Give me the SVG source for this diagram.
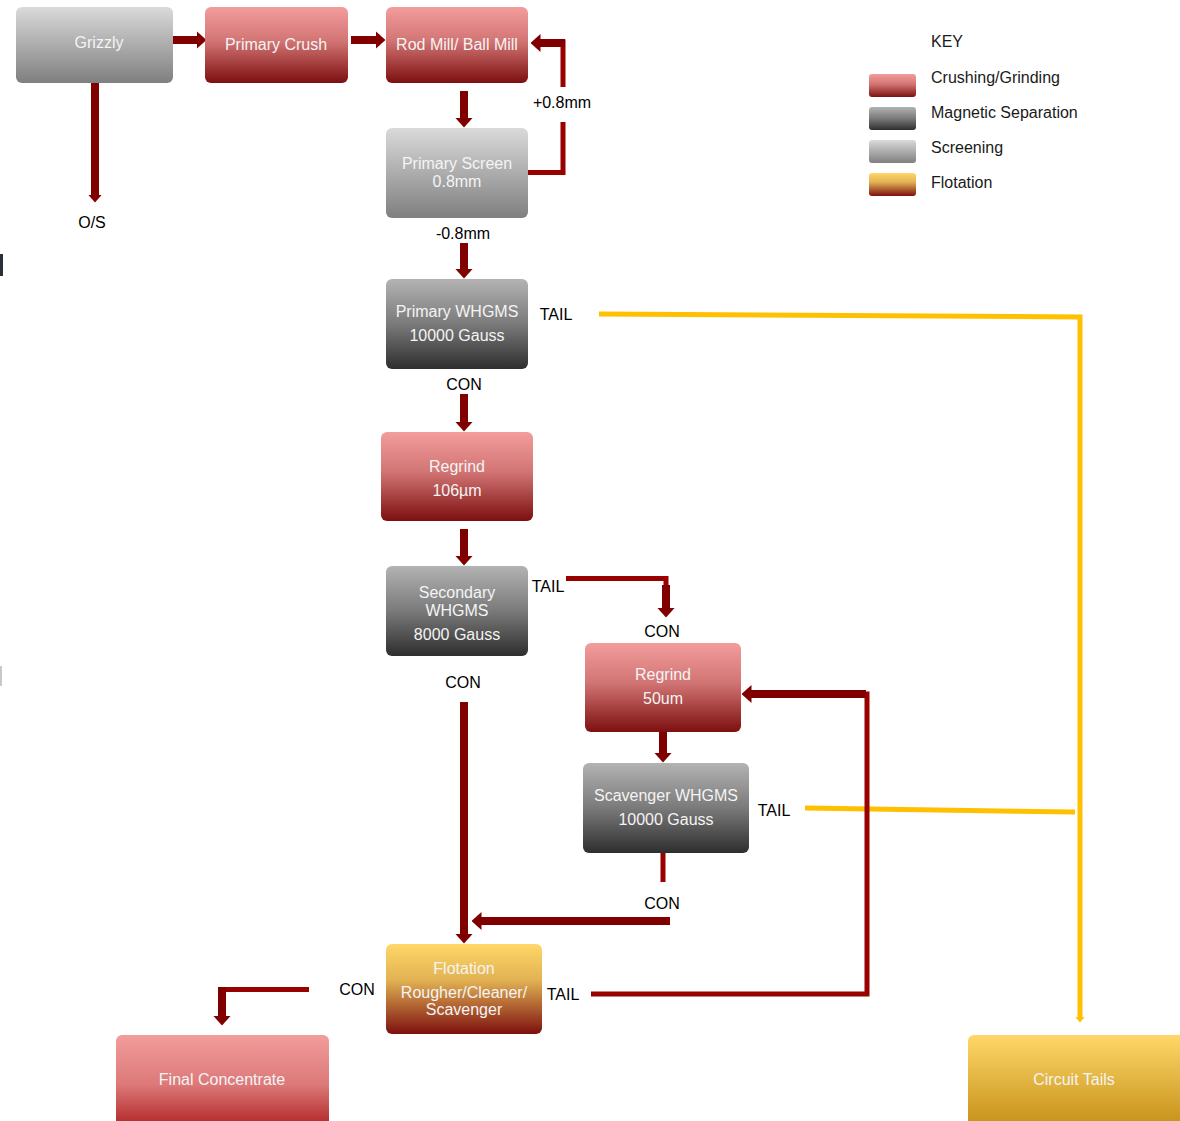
<svg xmlns="http://www.w3.org/2000/svg" width="1180" height="1121" viewBox="0 0 1180 1121">
<defs>
<linearGradient id="gRed" x1="0" y1="0" x2="0" y2="1"><stop offset="0" stop-color="#f29d9c"/><stop offset="0.45" stop-color="#d27474"/><stop offset="1" stop-color="#7d0f0f"/></linearGradient>
<linearGradient id="gRed2" x1="0" y1="0" x2="0" y2="1"><stop offset="0" stop-color="#f29d9c"/><stop offset="0.5" stop-color="#dc7878"/><stop offset="1" stop-color="#a81414"/></linearGradient>
<linearGradient id="gLight" x1="0" y1="0" x2="0" y2="1"><stop offset="0" stop-color="#dadada"/><stop offset="1" stop-color="#7f7f7f"/></linearGradient>
<linearGradient id="gDark" x1="0" y1="0" x2="0" y2="1"><stop offset="0" stop-color="#b3b3b3"/><stop offset="0.5" stop-color="#7a7a7a"/><stop offset="1" stop-color="#2e2e2e"/></linearGradient>
<linearGradient id="gFlot" x1="0" y1="0" x2="0" y2="1"><stop offset="0" stop-color="#ffd768"/><stop offset="0.4" stop-color="#e2b253"/><stop offset="1" stop-color="#7d0f0f"/></linearGradient>
<linearGradient id="gTails" x1="0" y1="0" x2="0" y2="1"><stop offset="0" stop-color="#ffd768"/><stop offset="1" stop-color="#c08a12"/></linearGradient>
<marker id="ah" markerUnits="userSpaceOnUse" markerWidth="10" markerHeight="18" viewBox="0 0 10 18" refX="0.5" refY="9" orient="auto"><path d="M0,0 L10,9 L0,18 z" fill="#800000"/></marker>
<marker id="ahs" markerUnits="userSpaceOnUse" markerWidth="8" markerHeight="14" viewBox="0 0 8 14" refX="0.5" refY="7" orient="auto"><path d="M0,0 L8,7 L0,14 z" fill="#800000"/></marker>
<marker id="ahy" markerUnits="userSpaceOnUse" markerWidth="6" markerHeight="10" viewBox="0 0 6 10" refX="0.5" refY="5" orient="auto"><path d="M0,0 L6,5 L0,10 z" fill="#ffc000"/></marker>
</defs>
<style>
.n{font-family:"Liberation Sans",Arial,sans-serif;font-size:16px;fill:#f4f4f4;text-anchor:middle}
.l{font-family:"Liberation Sans",Arial,sans-serif;font-size:16px;fill:#000;text-anchor:middle}
.k{font-family:"Liberation Sans",Arial,sans-serif;font-size:16px;fill:#1a1a1a}
.a{fill:none;stroke:#800000;stroke-width:8}
.b{fill:none;stroke:#990000;stroke-width:5}
.y{fill:none;stroke:#ffc000;stroke-width:5}
</style>
<rect x="0" y="254" width="3" height="22" fill="#2a2f3a"/>
<rect x="0" y="666" width="2" height="20" fill="#c8c8c8"/>
<g id="connectors">
<path class="a" d="M173,40 H197" marker-end="url(#ah)"/>
<path class="a" d="M351,40 H376" marker-end="url(#ah)"/>
<path class="a" d="M95,83 V195" stroke-width="6" marker-end="url(#ahs)"/>
<path class="a" d="M464,91 V118" marker-end="url(#ah)"/>
<path class="b" d="M528,172.5 H563 V122"/>
<path class="b" d="M563,87 V42 H545"/>
<path class="a" d="M565,43 H540" stroke-width="7" marker-end="url(#ah)"/>
<path class="a" d="M464,243 V269" marker-end="url(#ah)"/>
<path class="y" d="M599,314 L1080,317 V1017" marker-end="url(#ahy)"/>
<path class="a" d="M464,394 V422" marker-end="url(#ah)"/>
<path class="a" d="M464,529 V556" marker-end="url(#ah)"/>
<path class="b" d="M566,578.5 H666 V590"/>
<path class="a" d="M666,585 V608" marker-end="url(#ah)"/>
<path class="a" d="M464,702 V934" stroke-width="7" marker-end="url(#ah)"/>
<path class="a" d="M663,732 V753" marker-end="url(#ah)"/>
<path class="y" d="M805,808 L1075,812"/>
<path class="b" d="M663,853 V882"/>
<path class="a" d="M670,921 H481" marker-end="url(#ah)"/>
<path class="b" d="M591,994 H867 V694 H760"/>
<path class="a" d="M866,694 H751" stroke-width="7" marker-end="url(#ah)"/>
<path class="b" d="M309,989.5 H222"/>
<path class="a" d="M222,987 V1016" marker-end="url(#ah)"/>
</g>
<g id="grizzly"><rect x="16" y="7" width="157" height="76" rx="6" fill="url(#gLight)"/><text class="n" x="99" y="48">Grizzly</text></g>
<g id="primary-crush"><rect x="205" y="7" width="143" height="76" rx="6" fill="url(#gRed)"/><text class="n" x="276" y="50">Primary Crush</text></g>
<g id="rod-mill"><rect x="386" y="7" width="142" height="76" rx="6" fill="url(#gRed)"/><text class="n" x="457" y="50">Rod Mill/ Ball Mill</text></g>
<g id="primary-screen"><rect x="386" y="128" width="142" height="90" rx="6" fill="url(#gLight)"/><text class="n" x="457" y="169">Primary Screen</text><text class="n" x="457" y="187">0.8mm</text></g>
<g id="primary-whgms"><rect x="386" y="279" width="142" height="90" rx="6" fill="url(#gDark)"/><text class="n" x="457" y="317">Primary WHGMS</text><text class="n" x="457" y="341">10000 Gauss</text></g>
<g id="regrind-106"><rect x="381" y="432" width="152" height="89" rx="6" fill="url(#gRed)"/><text class="n" x="457" y="472">Regrind</text><text class="n" x="457" y="496">106µm</text></g>
<g id="secondary-whgms"><rect x="386" y="566" width="142" height="90" rx="6" fill="url(#gDark)"/><text class="n" x="457" y="598">Secondary</text><text class="n" x="457" y="616">WHGMS</text><text class="n" x="457" y="640">8000 Gauss</text></g>
<g id="regrind-50"><rect x="585" y="643" width="156" height="89" rx="6" fill="url(#gRed)"/><text class="n" x="663" y="680">Regrind</text><text class="n" x="663" y="704">50um</text></g>
<g id="scavenger-whgms"><rect x="583" y="763" width="166" height="90" rx="6" fill="url(#gDark)"/><text class="n" x="666" y="801">Scavenger WHGMS</text><text class="n" x="666" y="825">10000 Gauss</text></g>
<g id="flotation"><rect x="386" y="944" width="156" height="90" rx="6" fill="url(#gFlot)"/><text class="n" x="464" y="974">Flotation</text><text class="n" x="464" y="998">Rougher/Cleaner/</text><text class="n" x="464" y="1015">Scavenger</text></g>
<g id="final-concentrate"><rect x="116" y="1035" width="213" height="100" rx="6" fill="url(#gRed2)"/><text class="n" x="222" y="1085">Final Concentrate</text></g>
<g id="circuit-tails"><rect x="968" y="1035" width="222" height="100" rx="6" fill="url(#gTails)"/><text class="n" x="1074" y="1085">Circuit Tails</text></g>
<g id="labels">
<text class="l" x="92" y="228">O/S</text>
<text class="l" x="562" y="108">+0.8mm</text>
<text class="l" x="463" y="239">-0.8mm</text>
<text class="l" x="556" y="320">TAIL</text>
<text class="l" x="464" y="390">CON</text>
<text class="l" x="548" y="592">TAIL</text>
<text class="l" x="662" y="637">CON</text>
<text class="l" x="463" y="688">CON</text>
<text class="l" x="774" y="816">TAIL</text>
<text class="l" x="662" y="909">CON</text>
<text class="l" x="563" y="1000">TAIL</text>
<text class="l" x="357" y="995">CON</text>
</g>
<g id="key">
<text class="k" x="931" y="47">KEY</text>
<rect x="869" y="74" width="47" height="23" rx="3" fill="url(#gRed)"/>
<text class="k" x="931" y="83">Crushing/Grinding</text>
<rect x="869" y="107" width="47" height="23" rx="3" fill="url(#gDark)"/>
<text class="k" x="931" y="118">Magnetic Separation</text>
<rect x="869" y="140" width="47" height="23" rx="3" fill="url(#gLight)"/>
<text class="k" x="931" y="153">Screening</text>
<rect x="869" y="173" width="47" height="23" rx="3" fill="url(#gFlot)"/>
<text class="k" x="931" y="188">Flotation</text>
</g>
</svg>
